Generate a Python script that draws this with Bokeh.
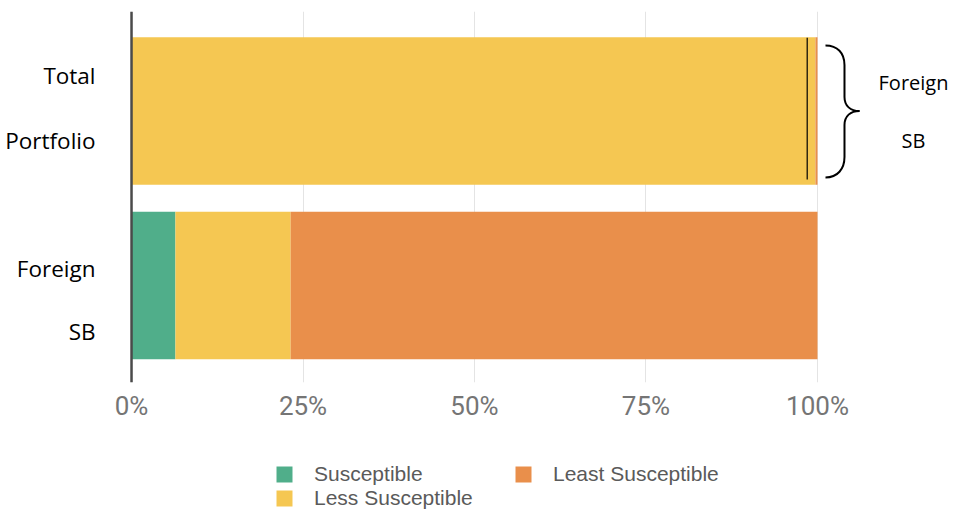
from bokeh.plotting import figure
from bokeh.layouts import column
from bokeh.models import (ColumnDataSource, Range1d, FixedTicker, PrintfTickFormatter,
                          Span, Legend, LegendItem)
from bokeh.core.properties import value
from bokeh.embed import file_html
from bokeh.resources import INLINE

# ---------------- data ----------------
categories = ["Foreign SB", "Total Portfolio"]
series = ["Susceptible", "Less Susceptible", "Least Susceptible"]
susceptible = [6.4, 0.0]
less_susceptible = [16.8, 99.7]
least_susceptible = [76.8, 0.3]
foreign_share_of_total = [1.5]
tick_values = [0, 25, 50, 75, 100]
bracket_labels = ["Foreign", "SB"]

# ---------------- style / layout ----------------
colors = ["#50ae8a", "#f5c752", "#e98f4b"]
W, H1, H2 = 950, 430, 80
x_start, x_end = -19.10, 119.39
y_start, y_end = -0.5559, 1.5702
top_b, bottom_b = 11, 48
frame_h = H1 - top_b - bottom_b
px_x = W / (x_end - x_start)
px_y = frame_h / (y_end - y_start)

rows = list(range(len(categories)))
source = ColumnDataSource(dict(y=rows, **{series[0]: susceptible,
                                         series[1]: less_susceptible,
                                         series[2]: least_susceptible}))

p = figure(width=W, height=H1, x_range=Range1d(x_start, x_end),
           y_range=Range1d(y_start, y_end), output_backend="svg",
           toolbar_location=None, y_axis_location=None,
           min_border_left=0, min_border_right=0,
           min_border_top=top_b, min_border_bottom=bottom_b)
p.outline_line_color = None
p.background_fill_color = "white"
p.border_fill_color = "white"
p.ygrid.grid_line_color = None

ax = p.xaxis[0]
ax.ticker = FixedTicker(ticks=tick_values)
ax.formatter = PrintfTickFormatter(format="%d%%")
ax.axis_line_color = None
ax.major_tick_line_color = None
ax.minor_tick_line_color = None
ax.major_label_text_font = "Roboto"
ax.major_label_text_font_size = "26px"
ax.major_label_text_color = "#757575"
ax.major_label_standoff = 2
p.xgrid.grid_line_color = "#e4e4e4"
p.xgrid.grid_line_width = 1

p.hbar_stack(series, y="y", height=0.845, color=colors, line_color=None, source=source)

# zero axis line
p.add_layout(Span(location=0, dimension="height", line_color="#4a4a4a", line_width=2.5))

# marker line for foreign share inside the total bar
total_row = categories.index("Total Portfolio")
p.segment(x0=[100 - foreign_share_of_total[0]], x1=[100 - foreign_share_of_total[0]],
          y0=[total_row - 0.393], y1=[total_row + 0.42], line_color="black", line_width=1.2)

# category labels (two lines each)
lab_text, lab_y = [], []
for r, c in zip(rows, categories):
    for part in c.split(" "):
        lab_text.append(part)
        lab_y.append(r)
lab_offsets = {"Total": -35.5, "Portfolio": 29.5, "Foreign": -17, "SB": 46}
p.text(x=[0] * len(lab_text), y=lab_y, text=lab_text, x_offset=-36,
       y_offset=[lab_offsets[t] for t in lab_text],
       text_align="right", text_baseline="alphabetic",
       text_font=value("Open Sans"), text_font_size="22.5px", text_color="black")

# bracket on the right of the total bar
def bx(dx):
    return 100 + dx / px_x

def by(dy):
    return total_row - dy / px_y

segs = [
    [(8, -65.5), (20, -65.5), (27, -58), (27, -46)],
    [(27, -46), (27, -35), (27, -25), (27, -14)],
    [(27, -14), (27, -5), (33, 0), (42, 0)],
    [(42, 0), (33, 0), (27, 5), (27, 14)],
    [(27, 14), (27, 25), (27, 35), (27, 46)],
    [(27, 46), (27, 58), (20, 66.5), (8, 66.5)],
]
p.bezier(x0=[bx(s[0][0]) for s in segs], y0=[by(s[0][1]) for s in segs],
         cx0=[bx(s[1][0]) for s in segs], cy0=[by(s[1][1]) for s in segs],
         cx1=[bx(s[2][0]) for s in segs], cy1=[by(s[2][1]) for s in segs],
         x1=[bx(s[3][0]) for s in segs], y1=[by(s[3][1]) for s in segs],
         line_color="black", line_width=2)

p.text(x=[100] * len(bracket_labels), y=[total_row] * len(bracket_labels),
       text=bracket_labels, x_offset=96, y_offset=[-28.5, 29.5],
       text_align="center", text_baseline="alphabetic",
       text_font=value("Open Sans"), text_font_size="20px", text_color="black")

# ---------------- legend strip ----------------
# same stacked bars, scrolled out of view; only their legend keys are shown
p2 = figure(width=W, height=H2, x_range=Range1d(x_start, x_end), y_range=Range1d(50, 51),
            output_backend="svg", toolbar_location=None,
            x_axis_location=None, y_axis_location=None, min_border=0)
p2.outline_line_color = None
p2.grid.grid_line_color = None
key_renderers = p2.hbar_stack(series, y="y", height=0.845, color=colors,
                              line_color=None, source=source)

legend = Legend(items=[LegendItem(label=s, renderers=[r]) for s, r in zip(series, key_renderers)],
                location=(274, 0), orientation="vertical", nrows=2,
                glyph_width=20, glyph_height=20, label_standoff=20,
                label_width=199, label_height=20, spacing=-1, padding=0, margin=0,
                border_line_color=None, background_fill_alpha=0,
                label_text_font="Liberation Sans", label_text_font_size="21px",
                label_text_color="#5a5a5a")
p2.add_layout(legend)

layout = column(p, p2, spacing=0)
open("out.html", "w").write(file_html(layout, INLINE))
